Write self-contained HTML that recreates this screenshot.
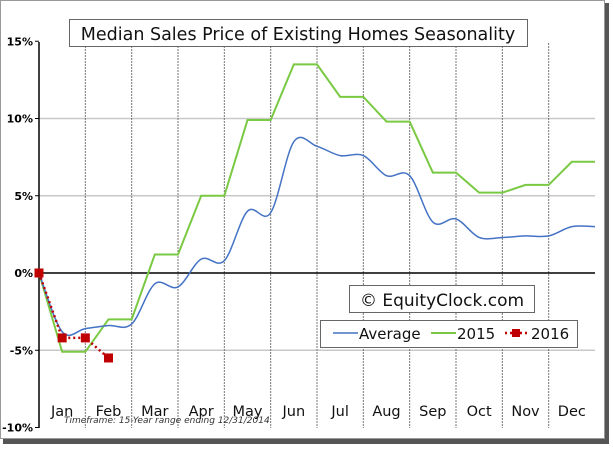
<!DOCTYPE html>
<html><head><meta charset="utf-8"><style>
body{margin:0;background:#fff;width:613px;height:447px;overflow:hidden}
svg text{font-family:"DejaVu Sans","Liberation Sans",sans-serif}
</style></head><body>
<svg id="c" width="613" height="447" xmlns="http://www.w3.org/2000/svg">
<rect x="3" y="3" width="606" height="441" fill="#555"/>
<rect x="0.5" y="0.5" width="604" height="438" fill="#fff" stroke="#999"/>
<g id="grid"></g>
<g id="series"></g>
<rect x="69.5" y="19.5" width="458" height="27" fill="#fff" stroke="#666"/>
<text x="298" y="40" font-size="17.5" text-anchor="middle" fill="#111">Median Sales Price of Existing Homes Seasonality</text>
<rect x="349.5" y="285.5" width="185" height="27" fill="#fff" stroke="#666"/>
<text x="442" y="306" font-size="17" text-anchor="middle" fill="#111">© EquityClock.com</text>
<g>
<rect x="320.5" y="320.5" width="257" height="27" fill="#fff" stroke="#666"/>
<line x1="333" y1="333" x2="358" y2="333" stroke="#4472c4" stroke-width="1.5"/>
<text x="359" y="339" font-size="15" fill="#111">Average</text>
<line x1="431" y1="333" x2="456" y2="333" stroke="#7ac943" stroke-width="2"/>
<text x="457" y="339" font-size="15" fill="#111">2015</text>
<line x1="505" y1="333" x2="529" y2="333" stroke="#c00000" stroke-width="2.5" stroke-dasharray="2,3"/>
<rect x="512" y="329" width="8" height="8" fill="#c00000"/>
<text x="531" y="339" font-size="15" fill="#111">2016</text>
</g>
<text x="64" y="423" font-size="9" font-style="italic" fill="#333">Timeframe: 15-Year range ending 12/31/2014</text>
</svg>
<script>
const months=["Jan","Feb","Mar","Apr","May","Jun","Jul","Aug","Sep","Oct","Nov","Dec"];
const yTicks=[15,10,5,0,-5,-10];
const average=[0,-3.8,-3.6,-3.4,-3.3,-0.7,-0.9,0.9,0.8,4.0,3.9,8.5,8.2,7.6,7.6,6.3,6.3,3.3,3.5,2.3,2.3,2.4,2.4,3.0,3.0];
const y2015=[0,-5.1,-5.1,-3.0,-3.0,1.2,1.2,5.0,5.0,9.9,9.9,13.5,13.5,11.4,11.4,9.8,9.8,6.5,6.5,5.2,5.2,5.7,5.7,7.2,7.2];
const y2016=[0,-4.2,-4.2,-5.5];
const X0=39,X1=595,Y0=273,PX=15.45;
const xs=i=>X0+i*(X1-X0)/24;
const ys=v=>Y0-v*PX;
const NS="http://www.w3.org/2000/svg";
const grid=document.getElementById('grid'),ser=document.getElementById('series');
function mk(tag,attrs,parent){const e=document.createElementNS(NS,tag);for(const k in attrs)e.setAttribute(k,attrs[k]);parent.appendChild(e);return e;}
yTicks.forEach(t=>{
  if(t!==0&&t!==15&&t!==-10){const g=mk('line',{x1:X0,x2:X1,y1:ys(t),y2:ys(t),stroke:'#c8c8c8','stroke-width':1.5},grid);
  
  }
  const tk=mk('line',{x1:X0-4,x2:X0,y1:ys(t),y2:ys(t),stroke:'#000'},grid);
  
  
  const l=mk('text',{x:X0-6,y:ys(t)+4,'font-size':11,'font-weight':'bold','text-anchor':'end',fill:'#000'},grid);
  l.textContent=t+'%';
  
  
});
months.forEach((m,i)=>{
  const xb=xs(2*i+2);
  if(i<11){const g=mk('line',{x1:xb,x2:xb,y1:43,y2:428,stroke:'#777','stroke-dasharray':'2,1'},grid);
  
  }
  const t=mk('text',{x:xs(2*i+1),y:416,'font-size':14.5,'text-anchor':'middle',fill:'#111'},grid);
  t.textContent=m;
  
  
});
const ax=mk('line',{x1:X0,x2:X0,y1:42,y2:428,stroke:'#000','stroke-width':1.5},grid);


const zx=mk('line',{x1:X0,x2:X1,y1:Y0,y2:Y0,stroke:'#000','stroke-width':1.5},grid);


function smooth(arr){let p=arr.map((v,i)=>[xs(i),ys(v)]);let d='M'+p[0][0]+','+p[0][1];
  for(let i=0;i<p.length-1;i++){const a=p[Math.max(0,i-1)],b=p[i],c=p[i+1],e=p[Math.min(p.length-1,i+2)];
    d+=' C'+(b[0]+(c[0]-a[0])/6)+','+(b[1]+(c[1]-a[1])/6)+' '+(c[0]-(e[0]-b[0])/6)+','+(c[1]-(e[1]-b[1])/6)+' '+c[0]+','+c[1];}
  return d;}
const g15=mk('polyline',{points:y2015.map((v,i)=>xs(i)+','+ys(v)).join(' '),fill:'none',stroke:'#7ac943','stroke-width':2},ser);


const av=mk('path',{d:smooth(average),fill:'none',stroke:'#4472c4','stroke-width':1.5},ser);


const l16=mk('polyline',{points:y2016.map((v,i)=>xs(i)+','+ys(v)).join(' '),fill:'none',stroke:'#c00000','stroke-width':2.5,'stroke-dasharray':'2,3'},ser);


y2016.forEach((v,i)=>{const r=mk('rect',{x:xs(i)-4.5,y:ys(v)-4.5,width:9,height:9,fill:'#c00000'},ser);
  
  });
</script>
</body></html>
